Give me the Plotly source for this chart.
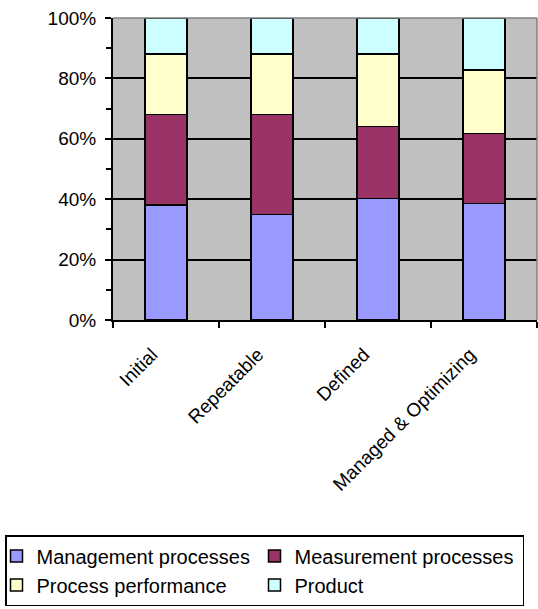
import plotly.graph_objects as go

categories = ["Initial", "Repeatable", "Defined", "Managed & Optimizing"]
management = [38.0, 35.0, 40.3, 38.6]
measurement = [30.0, 33.0, 23.7, 23.2]
performance = [20.0, 20.0, 24.0, 21.0]
product = [12.0, 12.0, 12.0, 17.2]

series = [
    ("Management processes", management, "#9999FF"),
    ("Measurement processes", measurement, "#993366"),
    ("Process performance", performance, "#FFFFCC"),
    ("Product", product, "#CCFFFF"),
]

FONT = "Liberation Sans, Arial, sans-serif"

fig = go.Figure()
for name, vals, color in series:
    fig.add_trace(go.Bar(
        x=categories, y=vals, name=name,
        marker=dict(color=color, line=dict(color="black", width=1.5)),
    ))

W, H = 538, 609
L, R, T, B = 113, 1, 18, 289
pw = W - L - R
ph = H - T - B

fig.update_layout(
    width=W, height=H,
    autosize=False,
    margin=dict(l=L, r=R, t=T, b=B, pad=0, autoexpand=False),
    barmode="stack",
    bargap=0.6,
    plot_bgcolor="#C0C0C0",
    paper_bgcolor="white",
    font=dict(family=FONT, size=19, color="black"),
    showlegend=True,
    legend=dict(
        orientation="h",
        x=(5 - L) / pw, y=(T + ph - 535) / ph,
        xanchor="left", yanchor="top",
        entrywidth=223, entrywidthmode="pixels",
        indentation=-10,
        traceorder="normal",
        bordercolor="black", borderwidth=1.5,
        bgcolor="white",
        font=dict(family=FONT, size=20, color="black"),
        itemwidth=30,
    ),
    shapes=[
        dict(type="line", xref="paper", yref="paper", x0=0, x1=1, y0=1, y1=1,
             line=dict(color="#808080", width=1.5), layer="above"),
        dict(type="line", xref="paper", yref="paper", x0=1, x1=1, y0=0, y1=1,
             line=dict(color="#808080", width=1.5), layer="above"),
    ],
)

fig.update_yaxes(
    range=[0, 100],
    tickvals=[0, 20, 40, 60, 80, 100],
    ticktext=["0%", "20%", "40%", "60%", "80%", "100%"],
    showgrid=True, gridcolor="black", gridwidth=1.5,
    showline=True, linecolor="black", linewidth=2,
    ticks="outside", ticklen=6, tickwidth=2, tickcolor="black",
    minor=dict(dtick=10, ticks="outside", ticklen=5, tickwidth=2, tickcolor="black", showgrid=False),
    tickfont=dict(family=FONT, size=19, color="black"),
    ticklabelstandoff=5,
    zeroline=False,
    automargin=False,
    fixedrange=True,
)
fig.update_xaxes(
    showline=True, linecolor="black", linewidth=2,
    ticks="outside", tickson="boundaries", ticklen=6, tickwidth=2, tickcolor="black",
    tickangle=-45,
    tickfont=dict(family=FONT, size=19, color="black"),
    ticklabelstandoff=14,
    ticklabelshift=-14,
    showgrid=False,
    automargin=False,
)

fig.write_html(
    "out.html",
    config={"responsive": False, "displayModeBar": False},
    post_script="document.body.style.margin='0';document.body.style.overflow='hidden';",
)
